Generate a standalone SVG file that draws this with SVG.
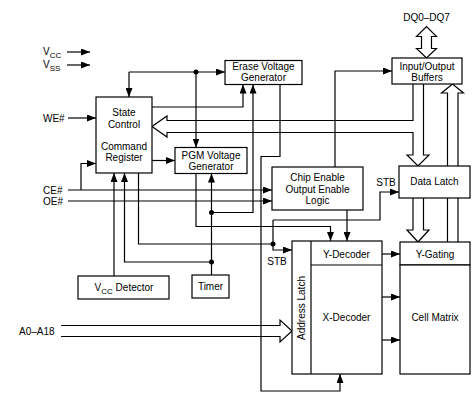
<svg xmlns="http://www.w3.org/2000/svg" width="474" height="401" viewBox="0 0 474 401">
<style>
text{font-family:"Liberation Sans",Arial,sans-serif;font-size:10px;fill:#000}
.b{fill:#fff;stroke:#000;stroke-width:1.2}
.c{fill:none;stroke:#000;stroke-width:1.2}
.a{marker-end:url(#ah)}
.m{text-anchor:middle}
.d{fill:#000}
</style>
<defs>
<marker id="ah" markerUnits="userSpaceOnUse" markerWidth="9" markerHeight="7" refX="9" refY="3.5" orient="auto"><path d="M0,0 L9,3.5 L0,7 z" fill="#000"/></marker>
</defs>
<rect width="474" height="401" fill="#fff"/>
<g id="connectors">
<path class="c a" d="M67,52 H90"/>
<path class="c a" d="M67,65 H90"/>
<path class="c a" d="M68,118 H96"/>
<path class="c a" d="M129,72 H225"/>
<path class="c a" d="M129,72 V97"/>
<path class="c a" d="M196,72 V147.5"/>
<path class="c a" d="M152,107 H243 V84.5"/>
<path class="c" d="M413,84 V120.5 H167 V116 L152,126.5 L167,137 V132.5 H413 V155 H407 L418,166 L429,155 H423.5 V84"/>
<path class="c a" d="M211.5,212.5 H253 V84.5"/>
<path class="c a" d="M280,84.5 V156.5 H261 V391 H340 V374"/>
<path class="c a" d="M335,167 V71 H392"/>
<path class="c" d="M447.5,166 V93 H441.5 L452.5,84 L463.5,93 H458 V166"/>
<path class="c" d="M447.5,198 V242 M458,198 V242"/>
<path class="c" d="M413,198 V230 H407 L418,242 L429,230 H423.5 V198"/>
<path class="c" d="M421.5,48.5 V36.5 H416.5 L426.5,26.5 L436.5,36.5 H431.5 V48.5 H436.5 L426.5,58 L416.5,48.5 Z"/>
<path class="c a" d="M68,190 H272"/>
<path class="c a" d="M81,190 V163.5 H96"/>
<path class="c a" d="M68,201 H272"/>
<path class="c a" d="M152,160.5 H175"/>
<path class="c a" d="M114,276 V173"/>
<path class="c a" d="M211.5,262 H124.5 V173"/>
<path class="c" d="M138.5,173 V244 H273"/>
<path class="c a" d="M273,220 V250 H292"/>
<path class="c a" d="M273,220 H380 V192 H399"/>
<path class="c a" d="M211.5,275 V173.5"/>
<path class="c a" d="M196,173.5 V226.5 H330.5 V241"/>
<path class="c a" d="M347,210 V241"/>
<path class="c a" d="M382,254 H400"/>
<path class="c a" d="M382,297 H400"/>
<path class="c a" d="M382,340 H400"/>
<path class="c" d="M61,325.5 H280 V320 L292,331 L280,342 V336.5 H61"/>
<circle class="d" cx="196" cy="72" r="2.5"/>
<circle class="d" cx="211.5" cy="212.5" r="2.5"/>
<circle class="d" cx="211.5" cy="262" r="2.5"/>
<circle class="d" cx="273" cy="244" r="2.5"/>
</g>
<g id="labels">
<text x="43" y="55">V<tspan font-size="8" dy="3">CC</tspan></text>
<text x="43" y="68">V<tspan font-size="8" dy="3">SS</tspan></text>
<text x="43" y="121.5">WE#</text>
<text x="43" y="193.5">CE#</text>
<text x="43" y="204.5">OE#</text>
<text x="19" y="334.5">A0–A18</text>
<text x="426.5" y="20.5" class="m">DQ0–DQ7</text>
<text x="386" y="186" class="m">STB</text>
<text x="277" y="264.5" class="m">STB</text>
</g>
<g id="state-control">
<rect class="b" x="96" y="97" width="56" height="76"/>
<text x="124" y="115.5" class="m">State</text>
<text x="124" y="127.5" class="m">Control</text>
<text x="124" y="149.5" class="m">Command</text>
<text x="124" y="160.5" class="m">Register</text>
</g>
<g id="erase-voltage">
<rect class="b" x="225" y="60.5" width="77" height="24"/>
<text x="263.5" y="70" class="m">Erase Voltage</text>
<text x="263.5" y="81" class="m">Generator</text>
</g>
<g id="pgm-voltage">
<rect class="b" x="175" y="147.5" width="72" height="26"/>
<text x="211" y="159" class="m">PGM Voltage</text>
<text x="211" y="170" class="m">Generator</text>
</g>
<g id="io-buffers">
<rect class="b" x="392" y="58" width="70" height="26"/>
<text x="427" y="70" class="m">Input/Output</text>
<text x="427" y="81" class="m">Buffers</text>
</g>
<g id="chip-enable">
<rect class="b" x="272" y="167" width="91" height="43"/>
<text x="317.5" y="180.5" class="m">Chip Enable</text>
<text x="317.5" y="192.5" class="m">Output Enable</text>
<text x="317.5" y="204" class="m">Logic</text>
</g>
<g id="data-latch">
<rect class="b" x="399" y="166" width="71" height="32"/>
<text x="434.5" y="185" class="m">Data Latch</text>
</g>
<g id="decoders">
<rect class="b" x="292" y="241" width="90" height="133"/>
<path class="c" d="M311,241 V374 M311,265 H382"/>
<text x="346.5" y="257.5" class="m">Y-Decoder</text>
<text x="346.5" y="320.5" class="m">X-Decoder</text>
<text class="m" transform="translate(304.5,308) rotate(-90)">Address Latch</text>
</g>
<g id="y-gating">
<rect class="b" x="400" y="242" width="70" height="23"/>
<text x="435" y="257.5" class="m">Y-Gating</text>
</g>
<g id="cell-matrix">
<rect class="b" x="400" y="265" width="70" height="109"/>
<text x="435" y="320.5" class="m">Cell Matrix</text>
</g>
<g id="vcc-detector">
<rect class="b" x="78" y="276" width="91" height="23"/>
<text x="124" y="290.5" class="m">V<tspan font-size="8" dy="3">CC</tspan><tspan dy="-3"> Detector</tspan></text>
</g>
<g id="timer">
<rect class="b" x="192" y="275" width="37" height="23"/>
<text x="210.5" y="290" class="m">Timer</text>
</g>
</svg>
